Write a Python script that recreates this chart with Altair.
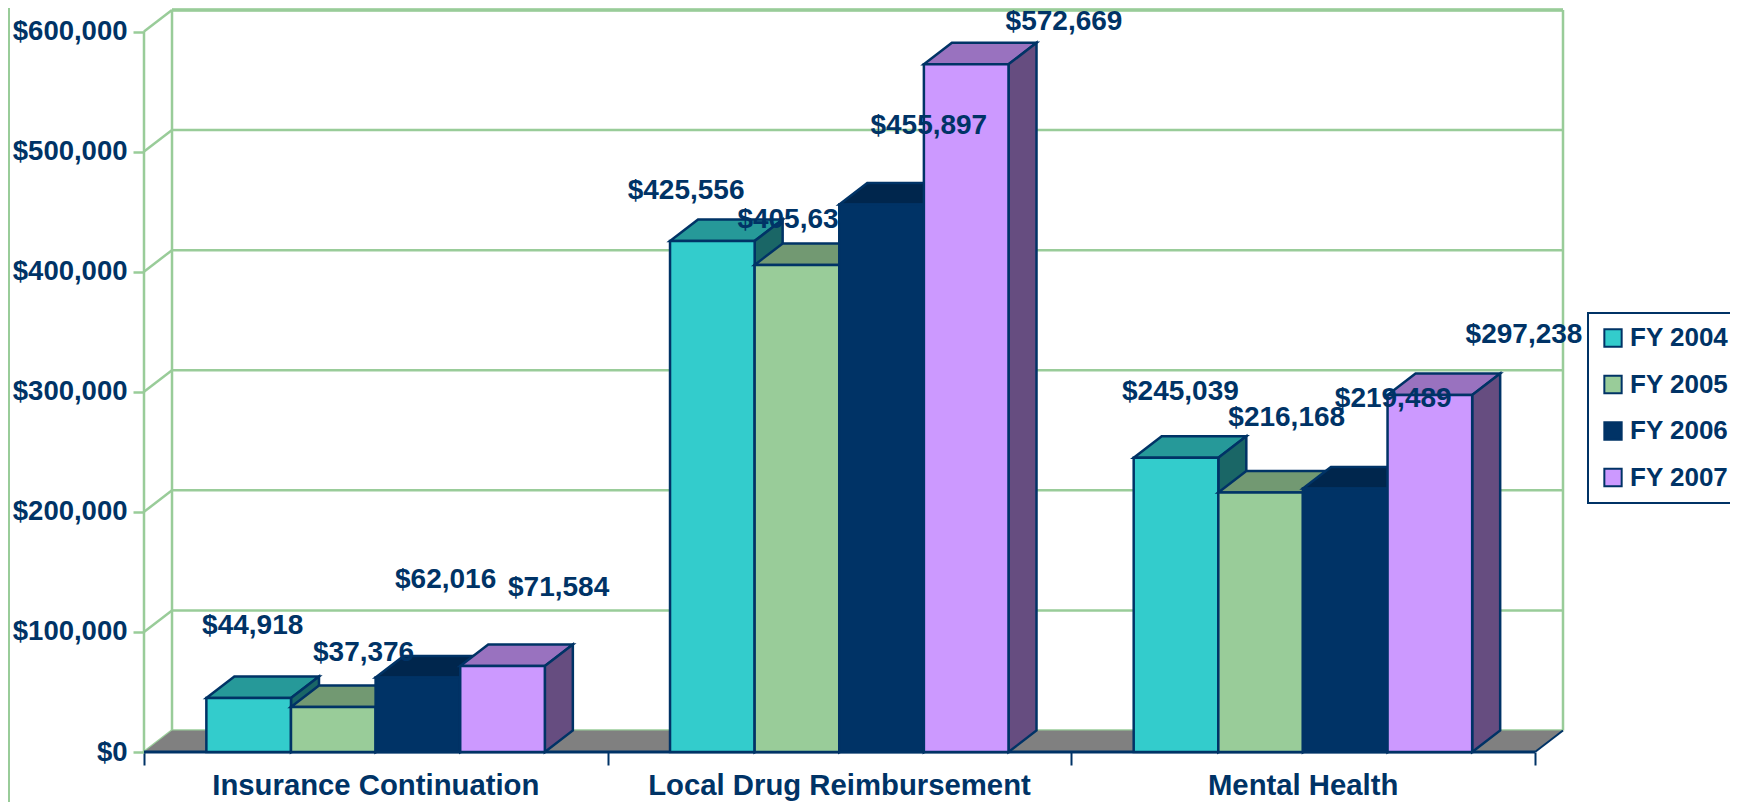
import altair as alt
import pandas as pd

categories = ["Insurance Continuation", "Local Drug Reimbursement", "Mental Health"]
series = ["FY 2004", "FY 2005", "FY 2006", "FY 2007"]
fy2004 = [44918, 425556, 245039]
fy2005 = [37376, 405630, 216168]
fy2006 = [62016, 455897, 219489]
fy2007 = [71584, 572669, 297238]
values = [fy2004, fy2005, fy2006, fy2007]
front_colors = ["#33CCCC", "#99CC99", "#003366", "#CC99FF"]
top_colors = ["#269999", "#729972", "#00264D", "#9972BF"]
side_colors = ["#1A6666", "#4D664D", "#001A33", "#664D80"]

# Where each value label sits, in chart units (series by series, category by category)
label_x = [[0.2345, 1.1691, 2.2353], [0.4736, 1.4057, 2.4645], [0.6505, 1.6926, 2.6942], [0.8942, 1.9842, 2.9763]]
label_y = [[104840, 467220, 300090], [82680, 443210, 277930], [143620, 521700, 293630], [136230, 608300, 347180]]

y_ticks = [0, 100000, 200000, 300000, 400000, 500000, 600000]
NAVY = "#003366"
GREEN = "#99CC99"
FONT = "Liberation Sans"

# 3-D geometry in chart units
DX = 0.0604
DY = 17917
PAD = 0.1345
BAR = 0.1825

xs = alt.Scale(domain=[0, 3 + DX], nice=False, zero=False)
ys = alt.Scale(domain=[0, 600000 + DY], nice=False, zero=True)
x_axis = alt.Axis(
    values=[0, 1, 2, 3], labels=False, domain=False, grid=False, title=None,
    tickColor=NAVY, tickWidth=2, tickSize=13)
y_axis = alt.Axis(
    values=y_ticks, format="$,.0f", domain=False, grid=False, title=None,
    tickColor=GREEN, tickWidth=2.5, tickSize=11, labelPadding=6,
    labelFont=FONT, labelFontWeight="bold", labelFontSize=27.5, labelColor=NAVY)
X = alt.X("x:Q", scale=xs, axis=x_axis)
Y = alt.Y("y:Q", scale=ys, axis=y_axis, stack=None)


def rules(rows, color, width):
    return alt.Chart(pd.DataFrame(rows, columns=["x", "x1", "y", "y1"])).mark_rule(
        color=color, strokeWidth=width
    ).encode(x=X, x2=alt.X2("x1:Q"), y=Y, y2=alt.Y2("y1:Q"))


def area(rows, fill, stroke=None, width=2.5):
    kw = {"fill": fill, "opacity": 1}
    if stroke:
        kw.update(stroke=stroke, strokeWidth=width, strokeJoin="miter")
    return alt.Chart(pd.DataFrame(rows, columns=["g", "x", "y", "y2"])).mark_area(**kw).encode(
        x=X, y=Y, y2=alt.Y2("y2:Q"), detail="g:N"
    )


layers = []

# Outer left border line of the original picture
layers.append(alt.Chart(pd.DataFrame({"a": [0]})).mark_rule(color=GREEN, strokeWidth=2).encode(
    x=alt.value(-135), y=alt.value(-2), y2=alt.value(792)))

# Walls
wall = []
for v in y_ticks:
    wall.append([DX, 3 + DX, v + DY, v + DY])
    wall.append([0, DX, v, v + DY])
wall.append([0, 0, 0, 600000])
wall.append([DX, DX, DY, 600000 + DY])
wall.append([3 + DX, 3 + DX, DY, 600000 + DY])
layers.append(rules(wall, GREEN, 2.5))
layers.append(rules([[DX, 3 + DX, 600000 + DY, 600000 + DY]], GREEN, 3.5))

# Floor
layers.append(area([["f", 0, 0, 0], ["f", DX, 0, DY], ["f", 3, 0, DY], ["f", 3 + DX, DY, DY]], "#808080"))
layers.append(rules([[3, 3 + DX, 0, DY]], NAVY, 2))
layers.append(rules([[0, 3, 0, 0]], NAVY, 3))

# Bars, series by series so later ones overlap earlier sides
for j, name in enumerate(series):
    top_rows, side_rows, front_rows = [], [], []
    for i, v in enumerate(values[j]):
        x0 = i + PAD + j * BAR
        x1 = x0 + BAR
        g = f"{i}"
        top_rows += [[g, x0, v, v], [g, x0 + DX, v, v + DY], [g, x1, v, v + DY], [g, x1 + DX, v + DY, v + DY]]
        side_rows += [[g, x1, 0, v], [g, x1 + DX, DY, v + DY]]
        front_rows.append([name, x0, x1, 0, v])
    layers.append(area(top_rows, top_colors[j], NAVY))
    layers.append(area(side_rows, side_colors[j], NAVY))
    layers.append(
        alt.Chart(pd.DataFrame(front_rows, columns=["series", "x", "x1", "y", "y1"]))
        .mark_rect(stroke=NAVY, strokeWidth=2.5, opacity=1)
        .encode(
            x=X, x2=alt.X2("x1:Q"), y=Y, y2=alt.Y2("y1:Q"),
            color=alt.Color("series:N", scale=alt.Scale(domain=series, range=front_colors),
                            legend=alt.Legend(
                                title=None, orient="none", legendX=1444, legendY=303,
                                symbolType="square", symbolSize=300,
                                symbolStrokeColor=NAVY, symbolStrokeWidth=2,
                                labelFont=FONT, labelFontSize=26, labelFontWeight="bold",
                                labelColor=NAVY, labelOffset=4, rowPadding=20.5,
                                fillColor="white", strokeColor=NAVY, padding=12,
                                labelLimit=200)),
        )
    )

# Value labels
label_rows = []
for j in range(4):
    for i in range(3):
        label_rows.append({"x": label_x[j][i], "y": label_y[j][i], "t": "$" + format(values[j][i], ",")})
layers.append(
    alt.Chart(pd.DataFrame(label_rows))
    .mark_text(font=FONT, fontSize=28, fontWeight="bold", color=NAVY, baseline="middle", align="center")
    .encode(x=X, y=Y, text="t:N")
)

# Category labels
layers.append(
    alt.Chart(pd.DataFrame({"x": [0.5, 1.5, 2.5], "y": [0, 0, 0], "t": categories}))
    .mark_text(font=FONT, fontSize=29.3, fontWeight="bold", color=NAVY, baseline="middle", align="center", dy=34)
    .encode(x=X, y=Y, text="t:N")
)

chart = (
    alt.layer(*layers)
    .properties(
        width=1419, height=742,
        autosize=alt.AutoSizeParams(type="none"),
        padding={"left": 136, "top": 2, "right": 167, "bottom": 50},
        background="white",
    )
    .configure_view(stroke=None)
    .configure_legend(strokeWidth=2, cornerRadius=0)
)
chart.save("out.html", embed_options={"renderer": "svg", "actions": False})
